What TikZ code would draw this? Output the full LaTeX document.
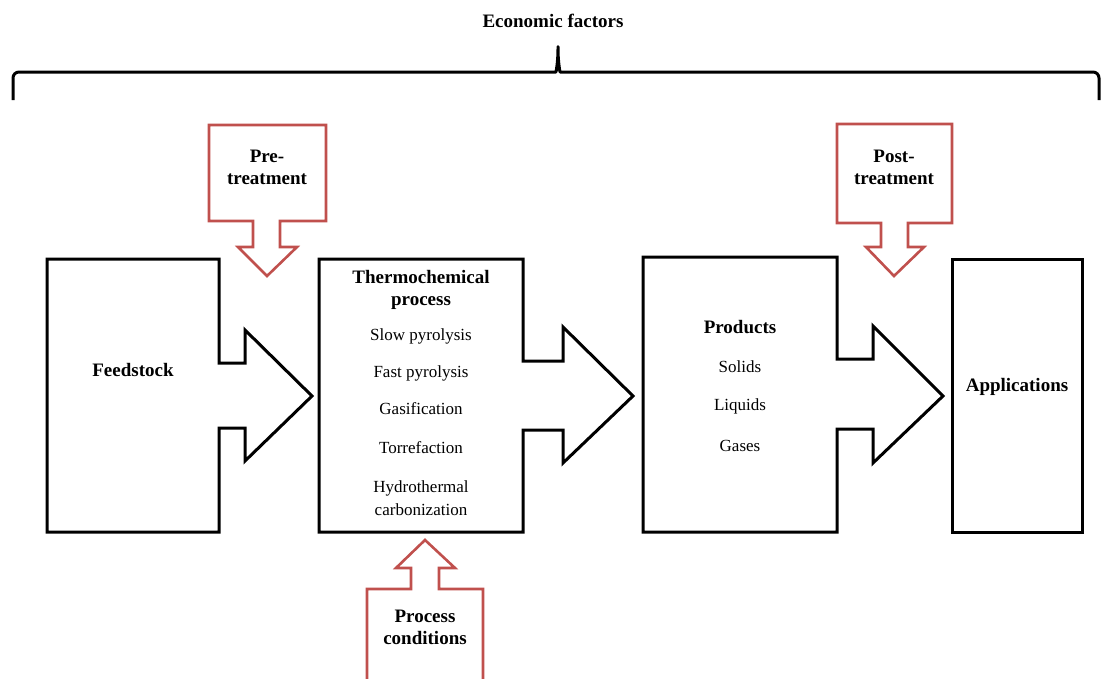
\documentclass[tikz,border=0pt]{standalone}
\usepackage{fontspec}
\setmainfont{Liberation Serif}
\usepackage{xcolor}
\usepackage{tikz}
\definecolor{redline}{RGB}{192,80,77}

\begin{document}
\begin{tikzpicture}[
x=1pt,y=-1pt,
blk/.style={
  draw=black,
  line width=3pt
},
rdl/.style={
  draw=redline,
  line width=2.6pt
},
ttl/.style={
  font=\fontsize{19}{22}\selectfont\bfseries,
  align=center,
  inner sep=0pt
},
itm/.style={
  font=\fontsize{17}{23}\selectfont,
  align=center,
  inner sep=0pt
}
]
\useasboundingbox (0,0) rectangle (1101,678);

\draw[blk,line join=round,rounded corners=6pt] (13,100) -- (13,72) -- (550,72)
  .. controls (556,72) and (558,62) .. (558,43)
  .. controls (558,62) and (560,72) .. (566,72) -- (1099,72) -- (1099,100);
\node[ttl] (econ) at (553,21) {Economic factors};

\draw[blk] (47,259) -- (219,259) -- (219,363) -- (245,363) -- (245,330) -- (312,396)
  -- (245,461) -- (245,428) -- (219,428) -- (219,532) -- (47,532) -- cycle;
\draw[blk] (319,259) -- (523,259) -- (523,361) -- (563,361) -- (563,327) -- (633,396)
  -- (563,463) -- (563,430) -- (523,430) -- (523,532) -- (319,532) -- cycle;
\draw[blk] (643,257) -- (837,257) -- (837,359) -- (873,359) -- (873,326) -- (943,396)
  -- (873,463) -- (873,429) -- (837,429) -- (837,532) -- (643,532) -- cycle;
\draw[blk] (952,259) rectangle (1082,532);

\draw[rdl] (209,125) -- (326,125) -- (326,221) -- (280,221) -- (280,247) -- (297,247)
  -- (267,276) -- (238,247) -- (253,247) -- (253,221) -- (209,221) -- cycle;
\draw[rdl] (837,124) -- (952,124) -- (952,223) -- (908,223) -- (908,247) -- (924,247)
  -- (894,276) -- (866,247) -- (881,247) -- (881,223) -- (837,223) -- cycle;
\draw[rdl] (367,700) -- (367,589) -- (411,589) -- (411,568) -- (396,568) -- (425,540)
  -- (455,568) -- (439,568) -- (439,589) -- (483,589) -- (483,700);

\node[ttl] (feed) at (133,370) {Feedstock};

\node[ttl] (thermo) at (421,290) {Thermochemical\\process};
\node[itm] (slow) at (421,336) {Slow pyrolysis};
\node[itm] (fast) at (421,373) {Fast pyrolysis};
\node[itm] (gasi) at (421,409) {Gasification};
\node[itm] (torr) at (421,448) {Torrefaction};
\node[itm] (htc) at (421,498) {Hydrothermal\\carbonization};

\node[ttl] (prod) at (740,327) {Products};
\node[itm] (sol) at (740,367) {Solids};
\node[itm] (liq) at (740,406) {Liquids};
\node[itm] (gas) at (740,446) {Gases};

\node[ttl] (appl) at (1017,387) {Applications};

\node[ttl] (pre) at (267,167) {Pre-\\treatment};
\node[ttl] (post) at (894,167) {Post-\\treatment};
\node[ttl] (cond) at (425,627) {Process\\conditions};
\end{tikzpicture}
\end{document}
